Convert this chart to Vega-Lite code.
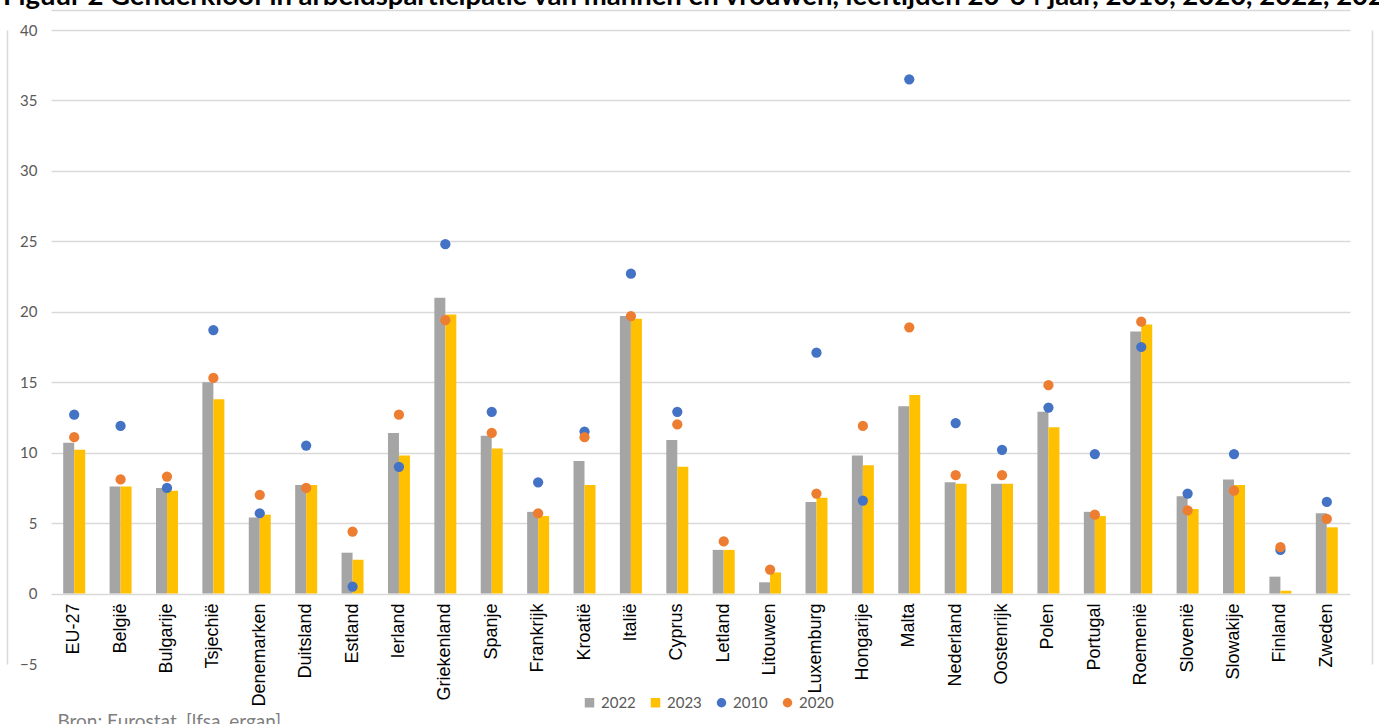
{
  "$schema": "https://vega.github.io/schema/vega-lite/v6.json",
  "width": 1299,
  "height": 634,
  "autosize": {"type": "none"},
  "padding": {"left": 51, "top": 30, "right": 29, "bottom": 60},
  "background": "white",
  "title": {
    "text": "Figuur 2 Genderkloof in arbeidsparticipatie van mannen en vrouwen, leeftijden 20-64 jaar, 2010, 2020, 2022, 2023",
    "anchor": "start",
    "frame": "group",
    "dx": -48,
    "dy": 22,
    "offset": 0,
    "baseline": "alphabetic",
    "font": "Lato",
    "fontSize": 27.5,
    "fontWeight": "bold",
    "color": "#000000"
  },
  "config": {
    "view": {"stroke": null},
    "axis": {"domainColor": "#D9D9D9", "domainWidth": 1.5}
  },
  "data": {
    "values": [
      {"land": "EU-27", "jaar": "2022", "waarde": 10.7},
      {"land": "EU-27", "jaar": "2023", "waarde": 10.2},
      {"land": "EU-27", "jaar": "2010", "waarde": 12.7},
      {"land": "EU-27", "jaar": "2020", "waarde": 11.1},
      {"land": "België", "jaar": "2022", "waarde": 7.6},
      {"land": "België", "jaar": "2023", "waarde": 7.6},
      {"land": "België", "jaar": "2010", "waarde": 11.9},
      {"land": "België", "jaar": "2020", "waarde": 8.1},
      {"land": "Bulgarije", "jaar": "2022", "waarde": 7.5},
      {"land": "Bulgarije", "jaar": "2023", "waarde": 7.3},
      {"land": "Bulgarije", "jaar": "2010", "waarde": 7.5},
      {"land": "Bulgarije", "jaar": "2020", "waarde": 8.3},
      {"land": "Tsjechië", "jaar": "2022", "waarde": 15.0},
      {"land": "Tsjechië", "jaar": "2023", "waarde": 13.8},
      {"land": "Tsjechië", "jaar": "2010", "waarde": 18.7},
      {"land": "Tsjechië", "jaar": "2020", "waarde": 15.3},
      {"land": "Denemarken", "jaar": "2022", "waarde": 5.4},
      {"land": "Denemarken", "jaar": "2023", "waarde": 5.6},
      {"land": "Denemarken", "jaar": "2010", "waarde": 5.7},
      {"land": "Denemarken", "jaar": "2020", "waarde": 7.0},
      {"land": "Duitsland", "jaar": "2022", "waarde": 7.7},
      {"land": "Duitsland", "jaar": "2023", "waarde": 7.7},
      {"land": "Duitsland", "jaar": "2010", "waarde": 10.5},
      {"land": "Duitsland", "jaar": "2020", "waarde": 7.5},
      {"land": "Estland", "jaar": "2022", "waarde": 2.9},
      {"land": "Estland", "jaar": "2023", "waarde": 2.4},
      {"land": "Estland", "jaar": "2010", "waarde": 0.5},
      {"land": "Estland", "jaar": "2020", "waarde": 4.4},
      {"land": "Ierland", "jaar": "2022", "waarde": 11.4},
      {"land": "Ierland", "jaar": "2023", "waarde": 9.8},
      {"land": "Ierland", "jaar": "2010", "waarde": 9.0},
      {"land": "Ierland", "jaar": "2020", "waarde": 12.7},
      {"land": "Griekenland", "jaar": "2022", "waarde": 21.0},
      {"land": "Griekenland", "jaar": "2023", "waarde": 19.8},
      {"land": "Griekenland", "jaar": "2010", "waarde": 24.8},
      {"land": "Griekenland", "jaar": "2020", "waarde": 19.4},
      {"land": "Spanje", "jaar": "2022", "waarde": 11.2},
      {"land": "Spanje", "jaar": "2023", "waarde": 10.3},
      {"land": "Spanje", "jaar": "2010", "waarde": 12.9},
      {"land": "Spanje", "jaar": "2020", "waarde": 11.4},
      {"land": "Frankrijk", "jaar": "2022", "waarde": 5.8},
      {"land": "Frankrijk", "jaar": "2023", "waarde": 5.5},
      {"land": "Frankrijk", "jaar": "2010", "waarde": 7.9},
      {"land": "Frankrijk", "jaar": "2020", "waarde": 5.7},
      {"land": "Kroatië", "jaar": "2022", "waarde": 9.4},
      {"land": "Kroatië", "jaar": "2023", "waarde": 7.7},
      {"land": "Kroatië", "jaar": "2010", "waarde": 11.5},
      {"land": "Kroatië", "jaar": "2020", "waarde": 11.1},
      {"land": "Italië", "jaar": "2022", "waarde": 19.7},
      {"land": "Italië", "jaar": "2023", "waarde": 19.5},
      {"land": "Italië", "jaar": "2010", "waarde": 22.7},
      {"land": "Italië", "jaar": "2020", "waarde": 19.7},
      {"land": "Cyprus", "jaar": "2022", "waarde": 10.9},
      {"land": "Cyprus", "jaar": "2023", "waarde": 9.0},
      {"land": "Cyprus", "jaar": "2010", "waarde": 12.9},
      {"land": "Cyprus", "jaar": "2020", "waarde": 12.0},
      {"land": "Letland", "jaar": "2022", "waarde": 3.1},
      {"land": "Letland", "jaar": "2023", "waarde": 3.1},
      {"land": "Letland", "jaar": "2020", "waarde": 3.7},
      {"land": "Litouwen", "jaar": "2022", "waarde": 0.8},
      {"land": "Litouwen", "jaar": "2023", "waarde": 1.5},
      {"land": "Litouwen", "jaar": "2020", "waarde": 1.7},
      {"land": "Luxemburg", "jaar": "2022", "waarde": 6.5},
      {"land": "Luxemburg", "jaar": "2023", "waarde": 6.8},
      {"land": "Luxemburg", "jaar": "2010", "waarde": 17.1},
      {"land": "Luxemburg", "jaar": "2020", "waarde": 7.1},
      {"land": "Hongarije", "jaar": "2022", "waarde": 9.8},
      {"land": "Hongarije", "jaar": "2023", "waarde": 9.1},
      {"land": "Hongarije", "jaar": "2010", "waarde": 6.6},
      {"land": "Hongarije", "jaar": "2020", "waarde": 11.9},
      {"land": "Malta", "jaar": "2022", "waarde": 13.3},
      {"land": "Malta", "jaar": "2023", "waarde": 14.1},
      {"land": "Malta", "jaar": "2010", "waarde": 36.5},
      {"land": "Malta", "jaar": "2020", "waarde": 18.9},
      {"land": "Nederland", "jaar": "2022", "waarde": 7.9},
      {"land": "Nederland", "jaar": "2023", "waarde": 7.8},
      {"land": "Nederland", "jaar": "2010", "waarde": 12.1},
      {"land": "Nederland", "jaar": "2020", "waarde": 8.4},
      {"land": "Oostenrijk", "jaar": "2022", "waarde": 7.8},
      {"land": "Oostenrijk", "jaar": "2023", "waarde": 7.8},
      {"land": "Oostenrijk", "jaar": "2010", "waarde": 10.2},
      {"land": "Oostenrijk", "jaar": "2020", "waarde": 8.4},
      {"land": "Polen", "jaar": "2022", "waarde": 12.9},
      {"land": "Polen", "jaar": "2023", "waarde": 11.8},
      {"land": "Polen", "jaar": "2010", "waarde": 13.2},
      {"land": "Polen", "jaar": "2020", "waarde": 14.8},
      {"land": "Portugal", "jaar": "2022", "waarde": 5.8},
      {"land": "Portugal", "jaar": "2023", "waarde": 5.5},
      {"land": "Portugal", "jaar": "2010", "waarde": 9.9},
      {"land": "Portugal", "jaar": "2020", "waarde": 5.6},
      {"land": "Roemenië", "jaar": "2022", "waarde": 18.6},
      {"land": "Roemenië", "jaar": "2023", "waarde": 19.1},
      {"land": "Roemenië", "jaar": "2010", "waarde": 17.5},
      {"land": "Roemenië", "jaar": "2020", "waarde": 19.3},
      {"land": "Slovenië", "jaar": "2022", "waarde": 6.9},
      {"land": "Slovenië", "jaar": "2023", "waarde": 6.0},
      {"land": "Slovenië", "jaar": "2010", "waarde": 7.1},
      {"land": "Slovenië", "jaar": "2020", "waarde": 5.9},
      {"land": "Slowakije", "jaar": "2022", "waarde": 8.1},
      {"land": "Slowakije", "jaar": "2023", "waarde": 7.7},
      {"land": "Slowakije", "jaar": "2010", "waarde": 9.9},
      {"land": "Slowakije", "jaar": "2020", "waarde": 7.3},
      {"land": "Finland", "jaar": "2022", "waarde": 1.2},
      {"land": "Finland", "jaar": "2023", "waarde": 0.2},
      {"land": "Finland", "jaar": "2010", "waarde": 3.1},
      {"land": "Finland", "jaar": "2020", "waarde": 3.3},
      {"land": "Zweden", "jaar": "2022", "waarde": 5.7},
      {"land": "Zweden", "jaar": "2023", "waarde": 4.7},
      {"land": "Zweden", "jaar": "2010", "waarde": 6.5},
      {"land": "Zweden", "jaar": "2020", "waarde": 5.3}
    ]
  },
  "encoding": {
    "x": {
      "field": "land",
      "type": "nominal",
      "sort": null,
      "scale": {"paddingInner": 0.526, "paddingOuter": 0.263}
    },
    "y": {
      "field": "waarde",
      "type": "quantitative",
      "scale": {"domain": [-5, 40], "nice": false, "zero": false}
    },
    "color": {
      "field": "jaar",
      "type": "nominal",
      "scale": {
        "domain": ["2022", "2023", "2010", "2020"],
        "range": ["#A5A5A5", "#FFC000", "#4472C4", "#ED7D31"]
      },
      "legend": {
        "title": null,
        "orient": "none",
        "direction": "horizontal",
        "legendX": 531,
        "legendY": 665,
        "padding": 0,
        "labelFont": "Lato",
        "labelFontSize": 15,
        "labelColor": "#595959",
        "labelOffset": 4,
        "columnPadding": 12,
        "symbolSize": 90,
        "symbolOpacity": 1,
        "symbolStrokeWidth": 0
      }
    }
  },
  "layer": [
    {
      "transform": [{"filter": {"field": "jaar", "oneOf": ["2022", "2023"]}}],
      "mark": {"type": "bar", "opacity": 1},
      "encoding": {
        "xOffset": {
          "field": "jaar",
          "type": "nominal",
          "scale": {"domain": ["2022", "2023"], "paddingInner": 0, "paddingOuter": 0}
        },
        "x": {
          "field": "land",
          "type": "nominal",
          "sort": null,
          "axis": {
            "orient": "bottom",
            "offset": -70,
            "domain": false,
            "ticks": false,
            "grid": false,
            "labelAngle": -90,
            "labelAlign": "right",
            "labelBaseline": "middle",
            "labelPadding": 9,
            "labelFont": "Liberation Sans",
            "labelFontSize": 18,
            "labelColor": "#000000",
            "labelLimit": 300,
            "labelOverlap": false,
            "title": "Bron: Eurostat, [lfsa_ergan]",
            "titleFont": "Lato",
            "titleFontSize": 19,
            "titleFontWeight": "normal",
            "titleColor": "#7F7F7F",
            "titleAnchor": "start",
            "titleAlign": "left",
            "titleBaseline": "alphabetic",
            "titleX": 6,
            "titleY": 133
          }
        },
        "y": {
          "field": "waarde",
          "type": "quantitative",
          "axis": {
            "orient": "left",
            "values": [-5, 0, 5, 10, 15, 20, 25, 30, 35, 40],
            "domain": false,
            "ticks": false,
            "grid": true,
            "gridColor": "#D9D9D9",
            "gridWidth": 1.3,
            "gridOpacity": {"condition": {"test": "datum.value < 0", "value": 0}, "value": 1},
            "labelFont": "Lato",
            "labelFontSize": 15,
            "labelColor": "#595959",
            "labelPadding": 14,
            "title": null
          }
        }
      }
    },
    {
      "transform": [{"filter": {"field": "jaar", "equal": "2010"}}],
      "mark": {"type": "point", "filled": true, "opacity": 1, "size": 105, "strokeWidth": 0},
      "encoding": {
        "shape": {
          "field": "jaar",
          "type": "nominal",
          "scale": {
            "domain": ["2022", "2023", "2010", "2020"],
            "range": ["square", "square", "circle", "circle"]
          }
        },
        "x": {
          "field": "land",
          "type": "nominal",
          "sort": null,
          "axis": {
            "orient": "top",
            "offset": 20,
            "domain": true,
            "ticks": false,
            "labels": false,
            "grid": false,
            "title": null
          }
        },
        "y": {
          "field": "waarde",
          "type": "quantitative",
          "axis": {
            "orient": "right",
            "offset": 22,
            "domain": true,
            "ticks": false,
            "labels": false,
            "grid": false,
            "title": null
          }
        }
      }
    },
    {
      "transform": [{"filter": {"field": "jaar", "equal": "2020"}}],
      "mark": {"type": "point", "filled": true, "opacity": 1, "size": 105, "strokeWidth": 0},
      "encoding": {
        "shape": {"field": "jaar", "type": "nominal"},
        "x": {"field": "land", "type": "nominal", "sort": null, "axis": null},
        "y": {
          "field": "waarde",
          "type": "quantitative",
          "axis": {
            "orient": "left",
            "offset": 44,
            "domain": true,
            "ticks": false,
            "labels": false,
            "grid": false,
            "title": null
          }
        }
      }
    }
  ],
  "resolve": {"axis": {"x": "independent", "y": "independent"}}
}
